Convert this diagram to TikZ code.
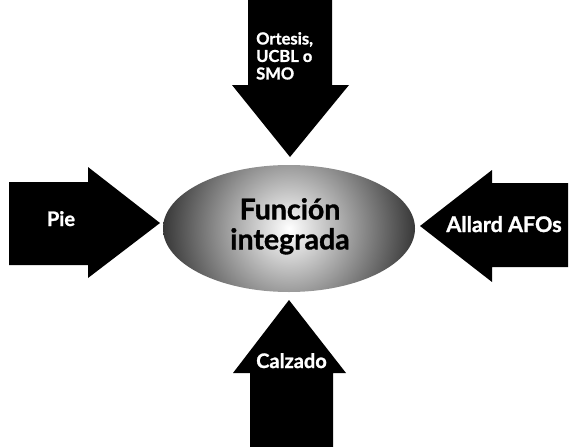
\documentclass[tikz,border=0pt]{standalone}
\usepackage{fontspec}
\setmainfont{Lato}[BoldFeatures={FakeBold=1.2}]
\usetikzlibrary{shapes.geometric}
\tikzset{
  bigarrow/.style={fill=black, draw=none},
  arrowtext/.style={text=white, font=\bfseries\fontsize{20}{22}\selectfont, inner sep=0pt},
}
\begin{document}
\begin{tikzpicture}[x=1pt,y=-1pt]
\useasboundingbox (0,0) rectangle (573,447);
% central ellipse
\node (center) [ellipse, minimum width=252pt, minimum height=127pt, inner sep=0pt,
  path picture={\shade[inner color=white, outer color=black!78]
    (path picture bounding box.center) circle[radius=126pt];}] at (289,228.5) {};
\node (title) [font=\bfseries\fontsize{28.5}{30}\selectfont, align=center, anchor=north, inner sep=0pt]
  at (290,198) {Función\\integrada};
% top arrow
\fill[bigarrow] (248,0) -- (332,0) -- (332,85) -- (349,85) -- (290,157) -- (232,85) -- (248,85) -- cycle;
\node (ortesis) [arrowtext, font=\bfseries\fontsize{16.5}{17.5}\selectfont, align=left, anchor=north west]
  at (256,32) {Ortesis,\\UCBL o\\SMO};
% left arrow
\fill[bigarrow] (9,182) -- (88,182) -- (88,167) -- (160,223) -- (88,278) -- (88,265) -- (9,265) -- cycle;
\node (pie) [arrowtext, anchor=base] at (61,226) {Pie};
% right arrow
\fill[bigarrow] (568,183) -- (568,267) -- (492,267) -- (492,282) -- (420,226) -- (492,170) -- (492,183) -- cycle;
\node (allard) [arrowtext, font=\bfseries\fontsize{21.5}{22}\selectfont, anchor=base] at (504,232) {Allard AFOs};
% bottom arrow
\fill[bigarrow] (289,300) -- (346,373) -- (333,373) -- (333,447) -- (250,447) -- (250,373) -- (233,373) -- cycle;
\node (calzado) [arrowtext, anchor=base] at (291.5,368) {Calzado};
\end{tikzpicture}
\end{document}
